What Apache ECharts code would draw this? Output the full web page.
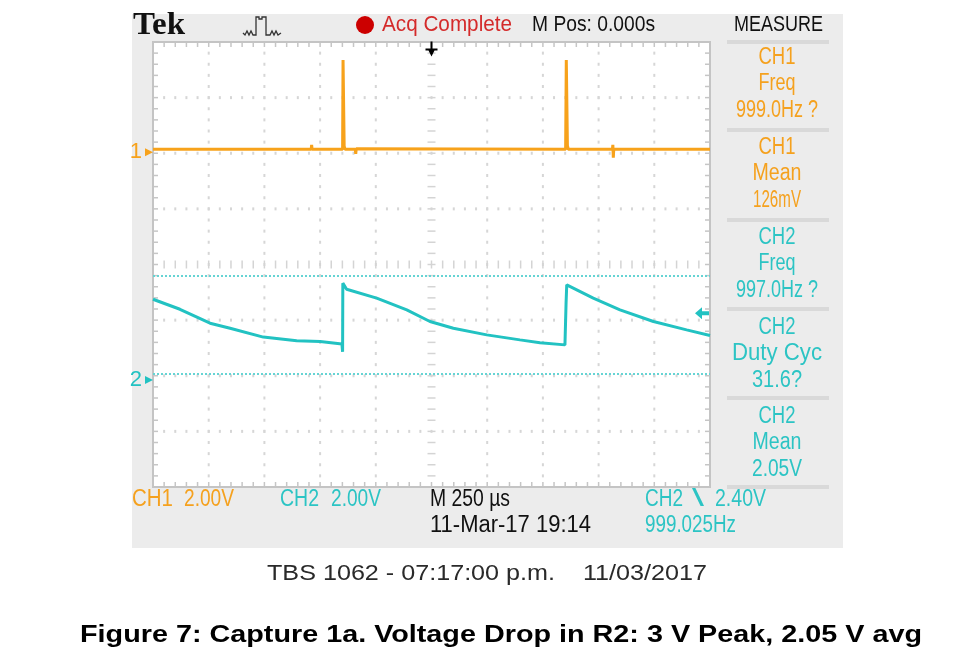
<!DOCTYPE html>
<html><head><meta charset="utf-8">
<script src="https://cdn.jsdelivr.net/npm/echarts@6/dist/echarts.min.js"></script>
<style>html,body{margin:0;padding:0;background:#fff}#c{width:967px;height:667px}</style>
</head><body><div id="c"></div>
<script>
// ---------------- data (read from the capture) ----------------
const timeRangeUs = [-1250, 1250];          // M 250 us/div, 10 divisions, trigger at centre
const ch1AxisVolts = [-12.04, 3.96];        // CH1 2.00 V/div, ground marker position
const ch2AxisVolts = [-3.85, 12.15];        // CH2 2.00 V/div, ground marker position
const gridDivs = [-4, 4];                   // 8 vertical divisions

const ch1TimeUs = [-1250, -540, -538, -536, -399, -398, -397, -393, -392, -388, -342, -340, -338, -336,
                   602, 604, 605, 609, 610, 614, 812, 814, 816, 818, 1250];
const ch1Volts  = [0.10, 0.10, 0.26, 0.10, 0.10, 0.04, 3.31, 3.31, 0.22, 0.10, 0.10, -0.06, 0.12, 0.10,
                   0.10, 0.04, 3.31, 3.31, 0.24, 0.10, 0.10, 0.26, -0.20, 0.10, 0.10];

const ch2TimeUs = [-1250, -1129, -994, -904, -755, -605, -500, -402, -399, -398, -381, -246, -111, -7,
                   98, 248, 397, 487, 599, 603, 604, 606, 607, 726, 846, 996, 1145, 1250];
const ch2Volts  = [2.90, 2.54, 2.04, 1.86, 1.54, 1.41, 1.38, 1.29, 1.01, 3.48, 3.26, 2.94, 2.52, 2.10,
                   1.86, 1.62, 1.44, 1.34, 1.26, 1.19, 2.77, 2.80, 3.42, 2.94, 2.52, 2.10, 1.80, 1.60];

const ch2CursorVolts = [3.76, 0.22];
const ch2TriggerVolts = 2.40;

const measureChannels = ['CH1', 'CH1', 'CH2', 'CH2', 'CH2'];
const measureNames    = ['Freq', 'Mean', 'Freq', 'Duty Cyc', 'Mean'];
const measureValues   = ['999.0Hz ?', '126mV', '997.0Hz ?', '31.6?', '2.05V'];

// ---------------- styles / layout ----------------
const ORANGE = '#f7a21b', CYAN = '#22c2c2';
const ORANGE_T = '#f5a11e', CYAN_T = '#2cc4c4';
const FONT = '"Liberation Sans", Arial, sans-serif';

const mctx = document.createElement('canvas').getContext('2d');
function txt(str, x, y, w, color, size, opt) {
  opt = opt || {};
  const font = (opt.weight || 'normal') + ' ' + size + 'px ' + (opt.family || FONT);
  mctx.font = font;
  const natural = mctx.measureText(str).width || 1;
  const align = opt.align || 'left';
  return {
    type: 'text', x: x, y: y, scaleX: w / natural, z: 20, silent: true,
    style: { text: str, font: font, fill: color, align: align, verticalAlign: 'middle',
             textAlign: align, textVerticalAlign: 'middle' }
  };
}
function R(x, y, w, h, fill) {
  return { type: 'rect', shape: { x: x, y: y, width: w, height: h }, style: { fill: fill } };
}

function renderGraticule(params, api) {
  const p0 = api.coord([timeRangeUs[0], gridDivs[1]]);
  const p1 = api.coord([timeRangeUs[1], gridDivs[0]]);
  const x0 = p0[0], y0 = p0[1], x1 = p1[0], y1 = p1[1];
  const W = x1 - x0, H = y1 - y0, nx = 10, ny = 8, mn = 5;
  const dx = W / nx, dy = H / ny;
  const dot = '#d6d6d6', tick = '#c6c6c6', ctr = '#d4d4d4';
  const kids = [R(x0, y0, W, H, '#ffffff')];
  for (let i = 1; i < nx; i++) {
    const x = x0 + i * dx;
    for (let j = 1; j < ny * mn; j++) {
      const y = y0 + j * dy / mn;
      if (i === nx / 2) kids.push(R(x - 4, y - 0.75, 8, 1.5, ctr));
      else kids.push(R(x - 1, y - 1.5, 2, 3, dot));
    }
  }
  for (let j = 1; j < ny; j++) {
    const y = y0 + j * dy;
    for (let i = 1; i < nx * mn; i++) {
      const x = x0 + i * dx / mn;
      if (j === ny / 2) kids.push(R(x - 0.75, y - 4, 1.5, 8, ctr));
      else kids.push(R(x - 1, y - 1.5, 2, 3, dot));
    }
  }
  for (let i = 1; i < nx * mn; i++) {
    const x = x0 + i * dx / mn;
    kids.push(R(x - 0.75, y0, 1.5, 5, tick));
    kids.push(R(x - 0.75, y1 - 5, 1.5, 5, tick));
  }
  for (let j = 1; j < ny * mn; j++) {
    const y = y0 + j * dy / mn;
    kids.push(R(x0, y - 0.75, 5, 1.5, tick));
    kids.push(R(x1 - 5, y - 0.75, 5, 1.5, tick));
  }
  kids.push({ type: 'rect', shape: { x: x0, y: y0, width: W, height: H },
              style: { fill: 'none', stroke: '#c4c4c4', lineWidth: 2 } });
  return { type: 'group', children: kids };
}

// ---------------- graphic (screen furniture & text) ----------------
const g = [];
g.push({ type: 'rect', shape: { x: 132, y: 14, width: 711, height: 534 }, style: { fill: '#ececec' }, z: -100, silent: true });
// measure panel separators
[40, 128, 218, 307, 396, 485].forEach(function (y) {
  g.push({ type: 'rect', shape: { x: 727, y: y, width: 102, height: 4 }, style: { fill: '#d9d9d9' }, z: 5, silent: true });
});
// top row
g.push(txt('Tek', 133, 26, 52, '#111', 31, { weight: 'bold', family: '"Liberation Serif", serif' }));
g.push({ type: 'polyline', z: 20, silent: true, shape: { points: [[243,33],[245,35],[247,31],[249,35],[251,31],[253,35],[256,35],[256,17],[259,17],[259,19],[262,19],[262,17],[266,17],[266,35],[270,35],[272,31],[274,35],[276,31],[278,35],[281,33]] },
         style: { stroke: '#333', lineWidth: 1.3, fill: null } });
g.push({ type: 'circle', shape: { cx: 365, cy: 25, r: 9 }, style: { fill: '#cc0000' }, z: 20, silent: true });
g.push(txt('Acq Complete', 382, 25, 130, '#d42a2a', 22));
g.push(txt('M Pos: 0.000s', 532, 25, 123, '#111', 22));
g.push(txt('MEASURE', 734, 25, 89, '#111', 22));
// measure panel
const blockY = [58, 148, 238, 328, 417];
const nameW = { 'Freq': 37, 'Mean': 49, 'Duty Cyc': 90 };
const valueW = [82, 48, 82, 50, 50];
for (let b = 0; b < 5; b++) {
  const col = measureChannels[b] === 'CH1' ? ORANGE_T : CYAN_T;
  g.push(txt(measureChannels[b], 777, blockY[b], 37, col, 23, { align: 'center' }));
  g.push(txt(measureNames[b], 777, blockY[b] + 26, nameW[measureNames[b]], col, 23, { align: 'center' }));
  g.push(txt(measureValues[b], 777, blockY[b] + 53, valueW[b], col, 23, { align: 'center' }));
}
// bottom status rows
g.push(txt('CH1', 132, 500, 41, ORANGE_T, 23));
g.push(txt('2.00V', 184, 500, 50, ORANGE_T, 23));
g.push(txt('CH2', 280, 500, 39, CYAN_T, 23));
g.push(txt('2.00V', 331, 500, 50, CYAN_T, 23));
g.push(txt('M 250 µs', 430, 500, 80, '#111', 23));
g.push(txt('11-Mar-17 19:14', 430, 526, 161, '#111', 23));
g.push(txt('CH2', 645, 500, 38, CYAN_T, 23));
g.push(txt('\\', 692, 500, 12, CYAN_T, 23));
g.push(txt('2.40V', 715, 500, 51, CYAN_T, 23));
g.push(txt('999.025Hz', 645, 526, 91, CYAN_T, 23));
// captions
g.push(txt('TBS 1062 - 07:17:00 p.m.', 267, 574, 288, '#2a2a2a', 22));
g.push(txt('11/03/2017', 583, 574, 124, '#2a2a2a', 22));
g.push(txt('Figure 7: Capture 1a. Voltage Drop in R2: 3 V Peak, 2.05 V avg', 501, 635, 842, '#000', 24, { weight: 'bold', align: 'center' }));

// ---------------- chart ----------------
const chart = echarts.init(document.getElementById('c'), null, { renderer: 'canvas', width: 967, height: 667 });
chart.setOption({
  animation: false,
  backgroundColor: '#ffffff',
  grid: { left: 153, top: 42, width: 557, height: 445, show: false },
  xAxis: [{ type: 'value', min: timeRangeUs[0], max: timeRangeUs[1], show: false }],
  yAxis: [
    { type: 'value', min: ch1AxisVolts[0], max: ch1AxisVolts[1], show: false },
    { type: 'value', min: ch2AxisVolts[0], max: ch2AxisVolts[1], show: false },
    { type: 'value', min: gridDivs[0], max: gridDivs[1], show: false }
  ],
  series: [
    { type: 'custom', name: 'graticule', coordinateSystem: 'cartesian2d', xAxisIndex: 0, yAxisIndex: 2,
      data: [[0, 0]], renderItem: renderGraticule, silent: true, z: 1, clip: false },
    { type: 'line', name: 'CH1', xAxisIndex: 0, yAxisIndex: 0, z: 4, clip: false,
      data: ch1TimeUs.map(function (t, i) { return [t, ch1Volts[i]]; }),
      showSymbol: false, symbol: 'none', lineStyle: { color: ORANGE, width: 3 },
      markPoint: { silent: true, animation: false, data: [
        { coord: [timeRangeUs[0], 0], symbol: 'triangle', symbolSize: [8, 8], symbolRotate: -90, symbolOffset: [-4, 0],
          itemStyle: { color: ORANGE },
          label: { show: true, position: 'left', distance: 3, formatter: '1', color: ORANGE, fontSize: 22, fontFamily: FONT } },
        { coord: [0, ch1AxisVolts[1]], symbol: 'path://M5,0 L7,0 L7,7 L12,7 L12,9 L9,9 L6,15 L3,9 L0,9 L0,7 L5,7 Z',
          symbolSize: [12, 15], symbolOffset: [0, 7], itemStyle: { color: '#000' }, label: { show: false } }
      ] } },
    { type: 'line', name: 'CH2', xAxisIndex: 0, yAxisIndex: 1, z: 3, clip: false,
      data: ch2TimeUs.map(function (t, i) { return [t, ch2Volts[i]]; }),
      showSymbol: false, symbol: 'none', lineStyle: { color: CYAN, width: 3 },
      markLine: { silent: true, animation: false, symbol: ['none', 'none'], label: { show: false },
        lineStyle: { type: [2, 2], width: 2, color: '#66d4d4' },
        data: ch2CursorVolts.map(function (v) { return { yAxis: v }; }) },
      markPoint: { silent: true, animation: false, data: [
        { coord: [timeRangeUs[0], 0], symbol: 'triangle', symbolSize: [8, 8], symbolRotate: -90, symbolOffset: [-4, 0],
          itemStyle: { color: CYAN },
          label: { show: true, position: 'left', distance: 3, formatter: '2', color: CYAN, fontSize: 22, fontFamily: FONT } },
        { coord: [timeRangeUs[1], ch2TriggerVolts], symbol: 'path://M0,6 L7,0 L7,4 L14,4 L14,8 L7,8 L7,12 Z',
          symbolSize: [14, 12], symbolOffset: [-8, 0], itemStyle: { color: CYAN }, label: { show: false } }
      ] } }
  ],
  graphic: { elements: g }
});
</script>
</body></html>
